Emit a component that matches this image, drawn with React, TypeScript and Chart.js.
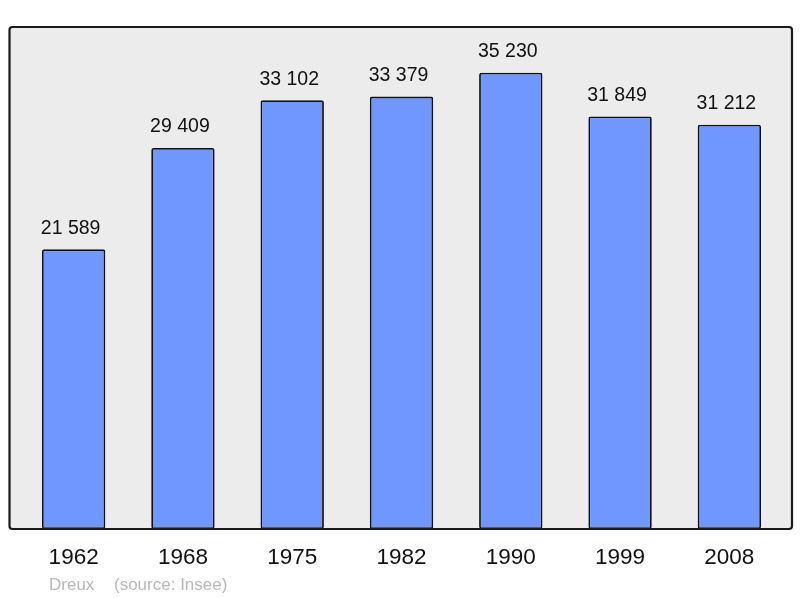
import React, { useEffect, useRef } from "react";
import { Chart, registerables } from "chart.js";

Chart.register(...registerables);

const years = ["1962", "1968", "1975", "1982", "1990", "1999", "2008"];
const population = [21589, 29409, 33102, 33379, 35230, 31849, 31212];
const footerCity = "Dreux";
const footerSource = "(source: Insee)";

const fmt = (v: number) => {
  const s = String(Math.round(v));
  return s.replace(/\B(?=(\d{3})+(?!\d))/g, " ");
};

const framePlugin = {
  id: "frame",
  beforeDraw(chart: any) {
    const { ctx, chartArea } = chart;
    const l = chartArea.left - 9.5;
    const r = chartArea.right + 8;
    const t = chartArea.top;
    const b = chartArea.bottom;
    ctx.save();
    ctx.fillStyle = "#ececec";
    ctx.beginPath();
    (ctx as any).roundRect(l, t, r - l, b - t, 3);
    ctx.fill();
    ctx.restore();
  },
  afterDatasetsDraw(chart: any) {
    const { ctx, chartArea } = chart;
    const l = chartArea.left - 9.5;
    const r = chartArea.right + 8;
    const t = chartArea.top;
    const b = chartArea.bottom;
    ctx.save();
    ctx.strokeStyle = "#1a1a1a";
    ctx.lineWidth = 2.2;
    ctx.beginPath();
    (ctx as any).roundRect(l, t, r - l, b - t, 3);
    ctx.stroke();

    // value labels
    const meta = chart.getDatasetMeta(0);
    ctx.fillStyle = "#111";
    ctx.font = "19.5px 'Liberation Sans', Arial, sans-serif";
    ctx.textAlign = "center";
    ctx.textBaseline = "middle";
    meta.data.forEach((bar: any, i: number) => {
      ctx.fillText(fmt(population[i]), bar.x - 3, bar.y - 21);
    });

    // footer
    ctx.fillStyle = "#b8b8b8";
    ctx.font = "17px 'Liberation Sans', Arial, sans-serif";
    ctx.textAlign = "left";
    ctx.fillText(footerCity, 49, 585);
    ctx.fillText(footerSource, 114, 585);
    ctx.restore();
  },
};

export default function App() {
  const ref = useRef<HTMLCanvasElement | null>(null);
  useEffect(() => {
    if (!ref.current) return;
    const chart = new Chart(ref.current, {
      type: "bar",
      data: {
        labels: years,
        datasets: [
          {
            data: population,
            backgroundColor: "#7096ff",
            borderColor: "#111",
            borderWidth: 1.8,
            borderRadius: 2,
            borderSkipped: false,
            categoryPercentage: 1,
            barPercentage: 0.58,
          },
        ],
      },
      options: {
        animation: false,
        responsive: false,
        maintainAspectRatio: false,
        layout: { padding: { top: 27, left: 19, right: 16, bottom: 0 } },
        plugins: {
          legend: { display: false },
          tooltip: { enabled: false },
          title: { display: false },
        },
        scales: {
          x: {
            grid: { display: false, drawTicks: false },
            border: { display: false },
            ticks: {
              color: "#111",
              font: { size: 22.5, family: "'Liberation Sans', Arial, sans-serif" },
              padding: 15,
              maxRotation: 0,
            },
            afterFit: (scale: any) => {
              scale.height = 69;
            },
          },
          y: {
            display: false,
            min: 0,
            max: 38753,
          },
        },
      },
      plugins: [framePlugin],
    });
    return () => chart.destroy();
  }, []);
  return (
    <div style={{ position: "absolute", left: 0, top: 0, width: 800, height: 598 }}>
      <canvas ref={ref} width={800} height={598} style={{ width: 800, height: 598 }} />
    </div>
  );
}
